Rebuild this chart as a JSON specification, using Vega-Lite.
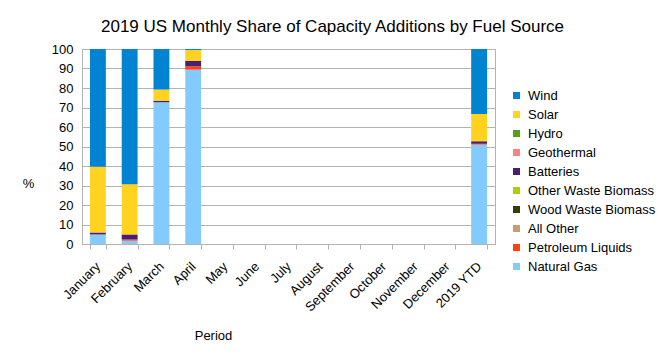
{
  "$schema": "https://vega.github.io/schema/vega-lite/v6.json",
  "autosize": {"type": "none"},
  "padding": {"left": 82, "top": 49, "right": 169, "bottom": 117},
  "width": 413,
  "height": 195,
  "background": "white",
  "config": {
    "font": "Liberation Sans",
    "view": {"stroke": "#b3b3b3", "strokeWidth": 1}
  },
  "title": {
    "text": "2019 US Monthly Share of Capacity Additions by Fuel Source",
    "fontSize": 17,
    "fontWeight": "normal",
    "color": "black",
    "anchor": "middle",
    "dx": 44,
    "offset": 7
  },
  "datasets": {
    "fuelOrder": [
      {"fuel": "Natural Gas", "stackRank": 1},
      {"fuel": "Petroleum Liquids", "stackRank": 2},
      {"fuel": "All Other", "stackRank": 3},
      {"fuel": "Wood Waste Biomass", "stackRank": 4},
      {"fuel": "Other Waste Biomass", "stackRank": 5},
      {"fuel": "Batteries", "stackRank": 6},
      {"fuel": "Geothermal", "stackRank": 7},
      {"fuel": "Hydro", "stackRank": 8},
      {"fuel": "Solar", "stackRank": 9},
      {"fuel": "Wind", "stackRank": 10}
    ]
  },
  "data": {
    "values": [
      {"period": "January", "fuel": "Natural Gas", "share": 4.9},
      {"period": "January", "fuel": "Batteries", "share": 1.0},
      {"period": "January", "fuel": "Solar", "share": 33.7},
      {"period": "January", "fuel": "Wind", "share": 60.4},
      {"period": "February", "fuel": "Natural Gas", "share": 1.7},
      {"period": "February", "fuel": "Petroleum Liquids", "share": 0.6},
      {"period": "February", "fuel": "Batteries", "share": 2.6},
      {"period": "February", "fuel": "Solar", "share": 25.8},
      {"period": "February", "fuel": "Wind", "share": 69.3},
      {"period": "March", "fuel": "Natural Gas", "share": 72.7},
      {"period": "March", "fuel": "Batteries", "share": 0.8},
      {"period": "March", "fuel": "Solar", "share": 5.7},
      {"period": "March", "fuel": "Wind", "share": 20.8},
      {"period": "April", "fuel": "Natural Gas", "share": 89.4},
      {"period": "April", "fuel": "Petroleum Liquids", "share": 1.7},
      {"period": "April", "fuel": "Batteries", "share": 2.9},
      {"period": "April", "fuel": "Solar", "share": 5.5},
      {"period": "April", "fuel": "Wind", "share": 0.5},
      {"period": "2019 YTD", "fuel": "Natural Gas", "share": 51.0},
      {"period": "2019 YTD", "fuel": "Petroleum Liquids", "share": 0.4},
      {"period": "2019 YTD", "fuel": "Batteries", "share": 1.3},
      {"period": "2019 YTD", "fuel": "Solar", "share": 14.0},
      {"period": "2019 YTD", "fuel": "Wind", "share": 33.3}
    ]
  },
  "transform": [
    {"lookup": "fuel", "from": {"data": {"name": "fuelOrder"}, "key": "fuel", "fields": ["stackRank"]}}
  ],
  "mark": {"type": "bar"},
  "encoding": {
    "x": {
      "field": "period",
      "type": "nominal",
      "scale": {
        "domain": ["January", "February", "March", "April", "May", "June", "July", "August", "September", "October", "November", "December", "2019 YTD"],
        "paddingInner": 0.5,
        "paddingOuter": 0.25
      },
      "axis": {
        "title": "Period",
        "titleFontSize": 13,
        "titleFontWeight": "normal",
        "titleColor": "black",
        "titleX": 131,
        "titleY": 91,
        "titleBaseline": "middle",
        "titleAnchor": null,
        "labelAngle": -45,
        "labelAlign": "right",
        "labelBaseline": "middle",
        "labelFontSize": 13,
        "labelColor": "black",
        "labelPadding": 15,
        "tickBand": "extent",
        "tickSize": 5,
        "tickColor": "#b3b3b3",
        "domainColor": "#b3b3b3",
        "grid": false
      }
    },
    "y": {
      "field": "share",
      "type": "quantitative",
      "stack": "zero",
      "scale": {"domain": [0, 100], "nice": false},
      "axis": {
        "title": "%",
        "titleAngle": 0,
        "titleFontSize": 13,
        "titleFontWeight": "normal",
        "titleColor": "black",
        "titleX": -54,
        "titleY": 134,
        "titleBaseline": "middle",
        "titleAlign": "center",
        "values": [0, 10, 20, 30, 40, 50, 60, 70, 80, 90, 100],
        "labelFontSize": 13,
        "labelColor": "black",
        "labelPadding": 9,
        "ticks": false,
        "domainColor": "#b3b3b3",
        "gridColor": "#b3b3b3",
        "gridOpacity": 1
      }
    },
    "order": {"field": "stackRank", "type": "quantitative", "sort": "ascending"},
    "color": {
      "field": "fuel",
      "type": "nominal",
      "scale": {
        "domain": ["Wind", "Solar", "Hydro", "Geothermal", "Batteries", "Other Waste Biomass", "Wood Waste Biomass", "All Other", "Petroleum Liquids", "Natural Gas"],
        "range": ["#0084d1", "#ffd320", "#579d1c", "#ff8080", "#4b1f6f", "#aecf00", "#314004", "#c99c6e", "#ff420e", "#83caff"]
      },
      "legend": {
        "title": null,
        "values": ["Wind", "Solar", "Hydro", "Geothermal", "Batteries", "Other Waste Biomass", "Wood Waste Biomass", "All Other", "Petroleum Liquids", "Natural Gas"],
        "orient": "none",
        "legendX": 428,
        "legendY": 40,
        "symbolType": "square",
        "symbolSize": 49,
        "symbolStrokeWidth": 0,
        "labelFontSize": 13,
        "labelColor": "black",
        "labelOffset": 5,
        "rowPadding": 5
      }
    }
  }
}
